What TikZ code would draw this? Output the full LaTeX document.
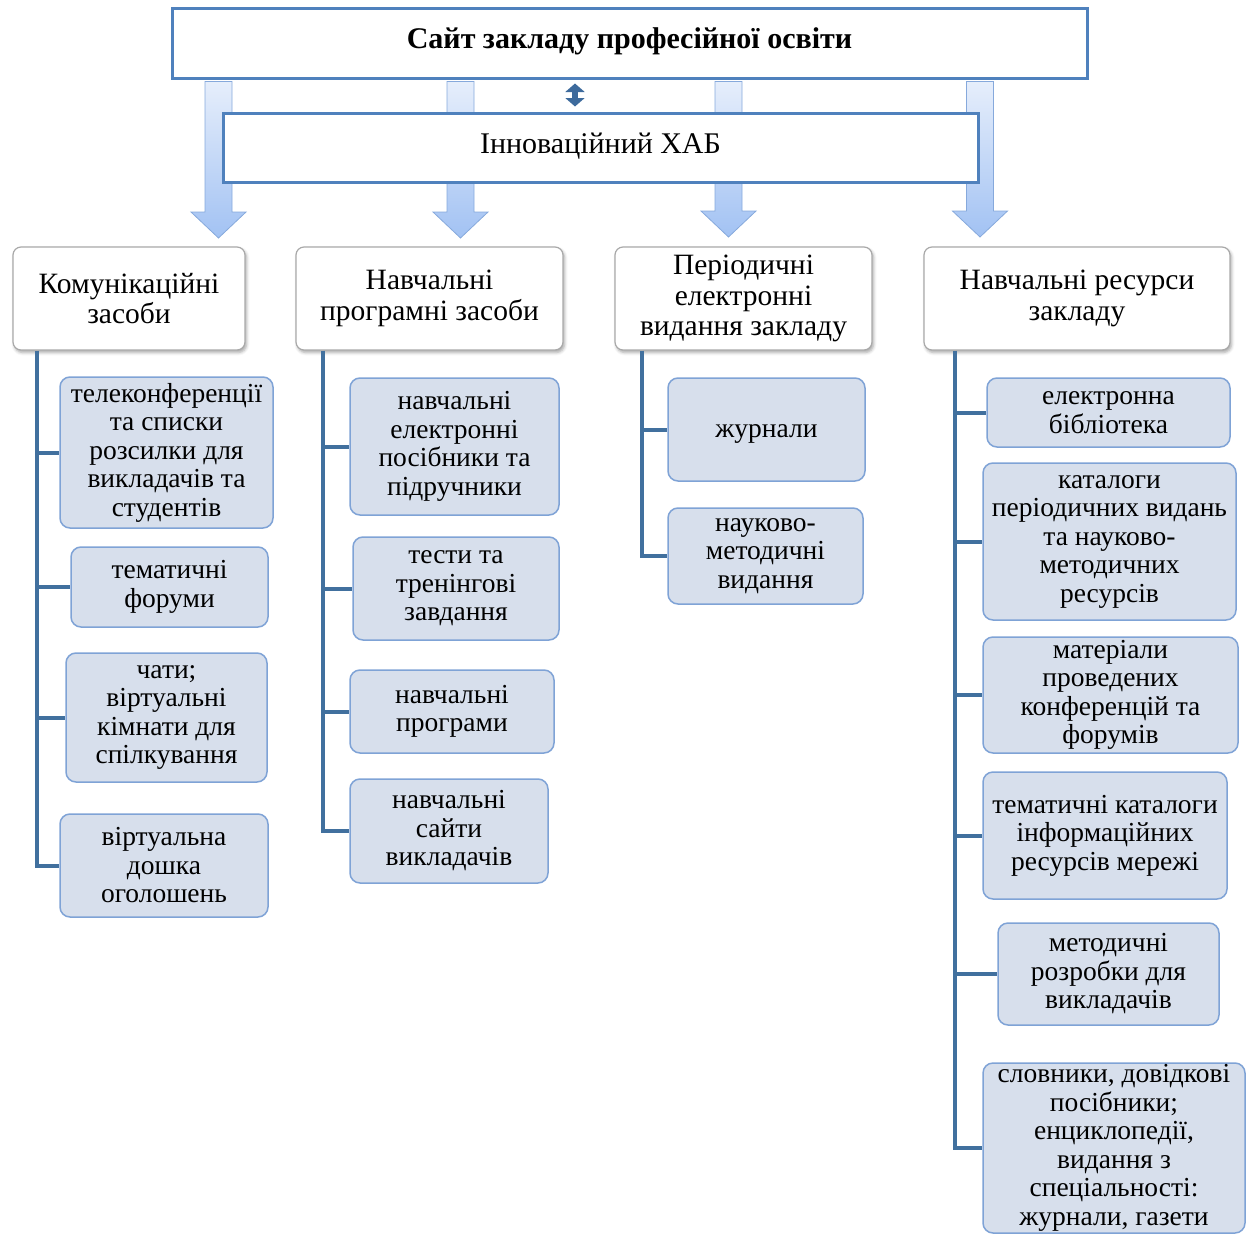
\documentclass[tikz,border=0pt]{standalone}
\usepackage{fontspec}
\setmainfont{Liberation Serif}
\usetikzlibrary{shadows.blur,arrows.meta}

\definecolor{frameblue}{HTML}{4F81BD}
\definecolor{treeblue}{HTML}{41709E}
\definecolor{kidfill}{HTML}{D7DFEC}
\definecolor{kidline}{HTML}{7FA3D6}
\definecolor{headline}{HTML}{A9A9A9}
\definecolor{arrtop}{HTML}{E6EEFB}
\definecolor{arrbot}{HTML}{A2C2F3}
\definecolor{arrline}{HTML}{86A9DC}
\definecolor{dblblue}{HTML}{3D6A9C}

% block arrow from the banner down to a tip coordinate
\newcommand\blockarrow[1]{%
  \coordinate (s#1) at (banner.south -| p#1);
  \path[bigarrow]
    ([xshift=-13.5pt,yshift=-2pt]s#1) -- ([xshift=13.5pt,yshift=-2pt]s#1)
    -- ([xshift=13.5pt,yshift=26pt]p#1) -- ([xshift=27.5pt,yshift=26pt]p#1)
    -- (p#1) -- ([xshift=-27.5pt,yshift=26pt]p#1)
    -- ([xshift=-13.5pt,yshift=26pt]p#1) -- cycle;}

\begin{document}
\begin{tikzpicture}[x=1pt,y=-1pt,
  banner/.style={draw=frameblue, line width=3pt, fill=white, inner sep=0pt, align=center},
  head/.style={draw=headline, line width=1.2pt, fill=white, rounded corners=8pt,
    align=center, inner sep=0pt, font=\fontsize{29.5}{30.5}\selectfont,
    blur shadow={shadow xshift=1.5pt, shadow yshift=-2.5pt, shadow blur radius=3pt, shadow opacity=35}},
  kid/.style={draw=kidline, line width=1.5pt, fill=kidfill, rounded corners=10pt,
    align=center, inner sep=0pt, font=\fontsize{27.5}{28.5}\selectfont,
    execute at begin node={\rule{0pt}{21pt}}},
  tree/.style={draw=treeblue, line width=4pt},
  bigarrow/.style={draw=arrline, line width=0.8pt, top color=arrtop, bottom color=arrbot},
  dblarrow/.style={draw=dblblue, line width=6pt,
    {Triangle[width=19pt,length=8.5pt]}-{Triangle[width=19pt,length=8.5pt]}}
]
\useasboundingbox (0,0) rectangle (1248,1234);

% tips of the four block arrows
\coordinate (p1) at (218.5,238);
\coordinate (p2) at (460.5,238);
\coordinate (p3) at (728.5,237);
\coordinate (p4) at (980,237);

% invisible outline of the banner, used to start the arrows behind it
\path (629.5,43) node[banner, minimum width=915, minimum height=70, draw=none, fill=none] (banner) {};
\blockarrow{1}
\blockarrow{2}
\blockarrow{3}
\blockarrow{4}

\node[banner, minimum width=915, minimum height=70] (site) at (629.5,43)
  {\raisebox{10pt}{\fontsize{30}{31}\selectfont\bfseries Сайт закладу професійної освіти}};
\node[banner, minimum width=755, minimum height=69] (hub) at (600.5,147.5)
  {\raisebox{9pt}{\fontsize{30}{31}\selectfont Інноваційний ХАБ}};

\coordinate (dx) at (575,0);
\coordinate (d1) at (site.south -| dx);
\coordinate (d2) at (hub.north -| dx);
\draw[dblarrow] ([yshift=-4pt]d1) -- ([yshift=5pt]d2);

% category headers
\node[head, minimum width=232, minimum height=103] (h1) at (129,298.5) {Комунікаційні\\засоби};
\node[head, minimum width=267, minimum height=103] (h2) at (429.5,298.5) {Навчальні\\програмні засоби};
\node[head, minimum width=257, minimum height=103] (h3) at (743.5,298.5) {Періодичні\\електронні\\видання закладу};
\node[head, minimum width=306, minimum height=103] (h4) at (1077,298.5) {Навчальні ресурси\\закладу};

% communication tools
\node[kid, minimum width=213, minimum height=151] (k11) at (166.5,452.5) {телеконференції\\та списки\\розсилки для\\викладачів та\\студентів};
\node[kid, minimum width=197, minimum height=80]  (k12) at (169.5,587) {тематичні\\форуми};
\node[kid, minimum width=201, minimum height=129] (k13) at (166.5,717.5) {чати;\\віртуальні\\кімнати для\\спілкування};
\node[kid, minimum width=208, minimum height=103] (k14) at (164,865.5) {віртуальна\\дошка\\оголошень};

% educational software
\node[kid, minimum width=209, minimum height=137] (k21) at (454.5,446.5) {навчальні\\електронні\\посібники та\\підручники};
\node[kid, minimum width=206, minimum height=103] (k22) at (456,588.5) {тести та\\тренінгові\\завдання};
\node[kid, minimum width=204, minimum height=83]  (k23) at (452,711.5) {навчальні\\програми};
\node[kid, minimum width=198, minimum height=104] (k24) at (449,831) {навчальні\\сайти\\викладачів};

% periodical publications
\node[kid, minimum width=197, minimum height=103] (k31) at (766.5,429.5) {журнали};
\node[kid, minimum width=195, minimum height=96]  (k32) at (765.5,556) {науково-\\методичні\\видання};

% educational resources
\node[kid, minimum width=243, minimum height=69]  (k41) at (1108.5,412.5) {електронна\\бібліотека};
\node[kid, minimum width=253, minimum height=157] (k42) at (1109.5,541.5) {каталоги\\періодичних видань\\та науково-\\методичних\\ресурсів};
\node[kid, minimum width=255, minimum height=116] (k43) at (1110.5,695) {матеріали\\проведених\\конференцій та\\форумів};
\node[kid, minimum width=244, minimum height=127] (k44) at (1105,835.5) {тематичні каталоги\\інформаційних\\ресурсів мережі};
\node[kid, minimum width=221, minimum height=102] (k45) at (1108.5,974) {методичні\\розробки для\\викладачів};
\node[kid, minimum width=262, minimum height=170] (k46) at (1114,1148) {словники, довідкові\\посібники;\\енциклопедії,\\видання з\\спеціальності:\\журнали, газети};

% tree connectors
\coordinate (tx1) at (37,0);
\coordinate (tx2) at (323,0);
\coordinate (tx3) at (642,0);
\coordinate (tx4) at (955,0);

\draw[tree] (h1.south -| tx1) |- (k14.west);
\foreach \k in {k11,k12,k13} \draw[tree] (\k.west -| tx1) -- (\k.west);
\draw[tree] (h2.south -| tx2) |- (k24.west);
\foreach \k in {k21,k22,k23} \draw[tree] (\k.west -| tx2) -- (\k.west);
\draw[tree] (h3.south -| tx3) |- (k32.west);
\draw[tree] (k31.west -| tx3) -- (k31.west);
\draw[tree] (h4.south -| tx4) |- (k46.west);
\foreach \k in {k41,k42,k43,k44,k45} \draw[tree] (\k.west -| tx4) -- (\k.west);
\end{tikzpicture}
\end{document}
